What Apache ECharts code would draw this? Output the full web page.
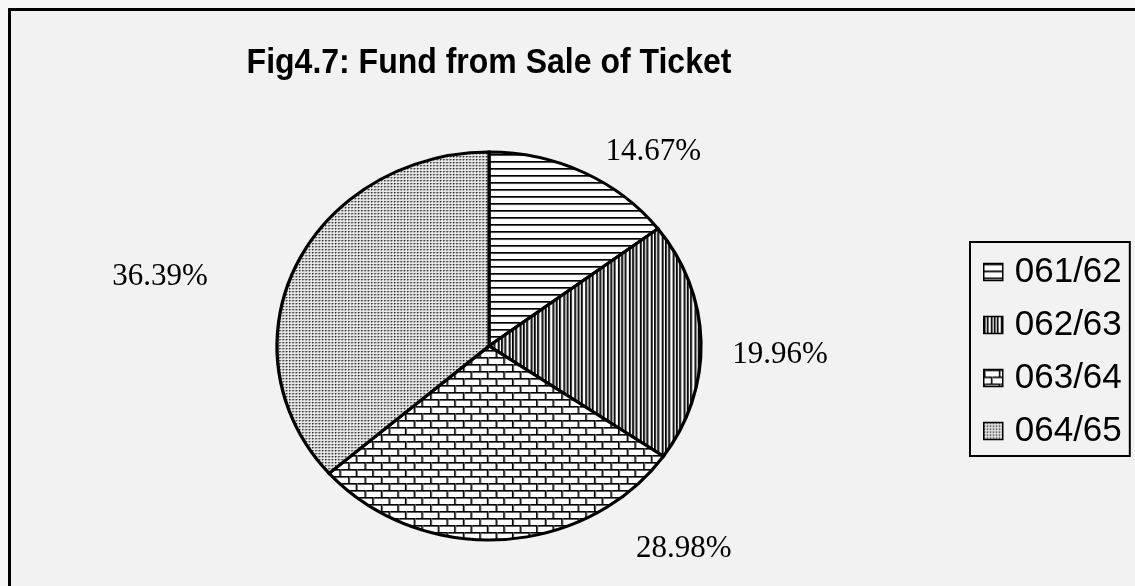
<!DOCTYPE html>
<html>
<head>
<meta charset="utf-8">
<script src="https://cdn.jsdelivr.net/npm/echarts@6/dist/echarts.min.js"></script>
<style>
  html, body { margin: 0; padding: 0; background: #f7f7f7; }
  #chart { width: 1135px; height: 586px; }
</style>
</head>
<body>
<div id="chart"></div>
<script>
// Chart content
const titleText = 'Fig4.7: Fund from Sale of Ticket';
const categories = ['061/62', '062/63', '063/64', '064/65'];
const shares = [14.67, 19.96, 28.98, 36.39];

// Pie geometry: a circle stretched horizontally into an ellipse
const CX = 489, CY = 346, R = 194, STRETCH = 212 / 194;
// Percentage label offsets from each slice's rim midpoint
const labelNudge = [[70, -20], [79, 13], [183, 9], [-136, 11]];

// Monochrome hatch tiles
function makeTile(w, h, draw) {
  const c = document.createElement('canvas');
  c.width = w; c.height = h;
  const g = c.getContext('2d');
  draw(g);
  return c;
}
const px = (g, color, x, y, w, h) => { g.fillStyle = color; g.fillRect(x, y, w, h); };

const tileHLines = makeTile(8, 7, g => {
  px(g, '#fff', 0, 0, 8, 7);
  px(g, '#000', 0, 0, 8, 1);
  px(g, '#555', 0, 1, 8, 1);
});
const tileVLines = makeTile(10, 4, g => {
  px(g, '#fff', 0, 0, 10, 4);
  [0, 3, 7].forEach(x => { px(g, '#000', x, 0, 1, 4); px(g, '#444', x + 1, 0, 1, 4); });
});
const tileBrick = makeTile(30, 14, g => {
  px(g, '#fff', 0, 0, 30, 14);
  px(g, '#000', 0, 0, 30, 1); px(g, '#666', 0, 1, 30, 1);
  px(g, '#000', 0, 7, 30, 1); px(g, '#666', 0, 8, 30, 1);
  px(g, '#000', 0, 0, 1, 7); px(g, '#666', 1, 0, 1, 7);
  px(g, '#000', 15, 0, 1, 7); px(g, '#666', 16, 0, 1, 7);
  px(g, '#000', 7, 7, 1, 7); px(g, '#666', 8, 7, 1, 7);
  px(g, '#000', 22, 7, 1, 7); px(g, '#666', 23, 7, 1, 7);
});
const tileDots = makeTile(3, 3, g => {
  px(g, '#e6e6e6', 0, 0, 3, 3);
  px(g, '#222', 0, 0, 1, 1);
  px(g, '#888', 1, 0, 1, 1);
  px(g, '#888', 0, 1, 1, 1);
});
const fills = [tileHLines, tileVLines, tileBrick, tileDots].map(img => ({ image: img, repeat: 'repeat' }));

const total = shares.reduce((a, b) => a + b, 0);
const startFrac = shares.map((v, i) => shares.slice(0, i).reduce((a, b) => a + b, 0) / total);

function renderSlice(i) {
  return function (params, api) {
    const v = api.value(0);
    const a0 = -Math.PI / 2 + startFrac[i] * 2 * Math.PI;
    const a1 = a0 + (v / total) * 2 * Math.PI;
    const mid = (a0 + a1) / 2;
    const rimX = CX + R * STRETCH * Math.cos(mid);
    const rimY = CY + R * Math.sin(mid);
    return {
      type: 'group',
      children: [
        {
          type: 'sector',
          shape: { cx: CX, cy: CY, r: R, r0: 0, startAngle: a0, endAngle: a1, clockwise: true },
          scaleX: STRETCH, originX: CX, originY: CY,
          style: { fill: fills[i], stroke: '#000', lineWidth: 3, strokeNoScale: true }
        },
        {
          type: 'text',
          x: rimX + labelNudge[i][0],
          y: rimY + labelNudge[i][1],
          style: {
            text: v.toFixed(2) + '%',
            font: '31px "Liberation Serif", "Times New Roman", serif',
            fill: '#000', align: 'center', verticalAlign: 'middle'
          }
        }
      ]
    };
  };
}

const chart = echarts.init(document.getElementById('chart'), null, { renderer: 'canvas' });
chart.setOption({
  animation: false,
  backgroundColor: '#f7f7f7',
  graphic: [
    {
      type: 'rect', z: -10,
      shape: { x: 9.5, y: 9.5, width: 1300, height: 800 },
      style: { fill: '#f2f2f2', stroke: '#000', lineWidth: 3 }
    },
    {
      type: 'text', z: 10, x: 489, y: 63, scaleY: 1.12,
      style: {
        text: titleText,
        font: 'bold 32px "Liberation Sans", Arial, sans-serif',
        fill: '#000', align: 'center', verticalAlign: 'middle'
      }
    }
  ],
  legend: {
    orient: 'vertical',
    left: 970, top: 242,
    padding: [12, 8, 7, 13],
    itemGap: 17,
    itemWidth: 19, itemHeight: 17,
    icon: 'rect',
    selectedMode: false,
    borderColor: '#000', borderWidth: 2,
    backgroundColor: '#f2f2f2',
    itemStyle: { borderColor: '#000', borderWidth: 1.5 },
    textStyle: {
      fontFamily: '"Liberation Sans", Arial, sans-serif',
      fontSize: 35, color: '#000', lineHeight: 36, padding: [0, 0, 0, 7]
    },
    data: categories
  },
  series: categories.map((name, i) => ({
    type: 'custom',
    name: name,
    coordinateSystem: 'none',
    itemStyle: { color: fills[i], borderColor: '#000', borderWidth: 1.5 },
    data: [[shares[i]]],
    renderItem: renderSlice(i)
  }))
});
</script>
</body>
</html>
